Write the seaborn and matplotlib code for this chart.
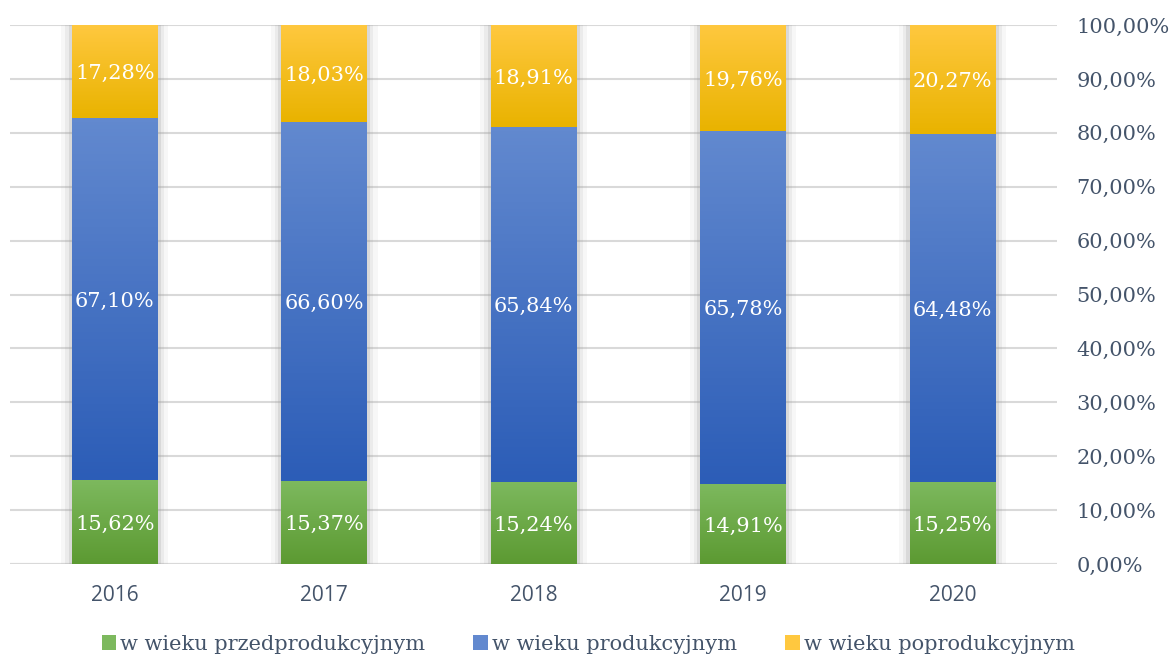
import numpy as np
import pandas as pd
import matplotlib
matplotlib.use("Agg")
import matplotlib.pyplot as plt
import seaborn as sns
from matplotlib.colors import LinearSegmentedColormap
from matplotlib.patches import Patch

years = ["2016", "2017", "2018", "2019", "2020"]
przed = [15.62, 15.37, 15.24, 14.91, 15.25]
prod = [67.10, 66.60, 65.84, 65.78, 64.48]
popr = [17.28, 18.03, 18.91, 19.76, 20.27]
series = ["w wieku przedprodukcyjnym", "w wieku produkcyjnym", "w wieku poprodukcyjnym"]

# kolory (góra, dół gradientu)
grad = {
    series[0]: ("#7db95e", "#5c9a32"),
    series[1]: ("#6289cf", "#2c5db7"),
    series[2]: ("#ffc83f", "#e9b300"),
}
text_col = "#44546a"

sns.set_theme(style="white")
plt.rcParams["font.family"] = ["DejaVu Serif"]

fig = plt.figure(figsize=(11.74, 6.59), dpi=100)
ax = fig.add_axes([0.0085, 0.144, 0.892, 0.818])

# wykres 100% - normalizacja do sumy
total = np.array(przed) + np.array(prod) + np.array(popr)
p1 = np.array(przed) / total * 100
p2 = p1 + np.array(prod) / total * 100
p3 = p2 + np.array(popr) / total * 100
bottoms = [np.zeros(5), p1, p2]
tops = [p1, p2, p3]

bw = 0.41
# cień
for i in range(5):
    for k, a in [(0.10, 0.08), (0.06, 0.12), (0.03, 0.22)]:
        ax.bar(i, 100.6, width=bw + k, bottom=-0.6, color="#9a9a9a", alpha=a, zorder=1, linewidth=0)

# słupki skumulowane, rysowane od najwyższego
for s, top in zip(series[::-1], tops[::-1]):
    sns.barplot(x=years, y=top, color=grad[s][1], width=bw, ax=ax, zorder=2, saturation=1, linewidth=0)

containers = ax.containers[-3:]
g = np.linspace(0, 1, 100).reshape(-1, 1)
for cont, s, bot, top in zip(containers, series[::-1], bottoms[::-1], tops[::-1]):
    cmap = LinearSegmentedColormap.from_list(s, [grad[s][1], grad[s][0]])
    for j, patch in enumerate(cont.patches):
        x0 = patch.get_x()
        w = patch.get_width()
        im = ax.imshow(g, cmap=cmap, aspect="auto", origin="lower",
                       extent=[x0, x0 + w, bot[j], top[j]], zorder=patch.get_zorder() + 0.01)
        im.set_clip_path(patch)

# etykiety
for bot, top, vals in zip(bottoms, tops, [przed, prod, popr]):
    for i, v in enumerate(vals):
        ax.text(i, (bot[i] + top[i]) / 2 - 0.4, f"{v:.2f}%".replace(".", ","), ha="center", va="center",
                color="white", fontsize=15, zorder=5)

ax.set_xlim(-0.5, 4.5)
ax.set_ylim(0, 100)
ax.set_yticks(np.arange(0, 101, 10))
ax.yaxis.tick_right()
ax.set_yticklabels([f"{v:.2f}%".replace(".", ",") for v in np.arange(0, 101, 10)],
                   color=text_col, fontsize=15)
ax.tick_params(axis="y", length=0, pad=14)
ax.tick_params(axis="x", length=0, pad=15)
for lab in ax.get_xticklabels():
    lab.set_fontfamily("Open Sans")
    lab.set_fontsize(15)
    lab.set_color(text_col)
ax.set_xlabel("")
ax.set_ylabel("")
ax.grid(axis="y", color="#d9d9d9", linewidth=1.5, zorder=0)
ax.set_axisbelow(True)
sns.despine(ax=ax, left=True, right=True, top=True, bottom=True)
ax.axhline(0, color="#d9d9d9", linewidth=1.5, zorder=0.5)

handles = [Patch(facecolor=grad[s][0], edgecolor="none") for s in series]
leg = fig.legend(handles, series, loc="center", bbox_to_anchor=(0.501, 0.022), ncol=3,
                 frameon=False, fontsize=15, handlelength=0.7, handleheight=0.7,
                 handletextpad=0.2, columnspacing=2.3)
for t in leg.get_texts():
    t.set_color(text_col)

fig.savefig("out.png", dpi=100)
